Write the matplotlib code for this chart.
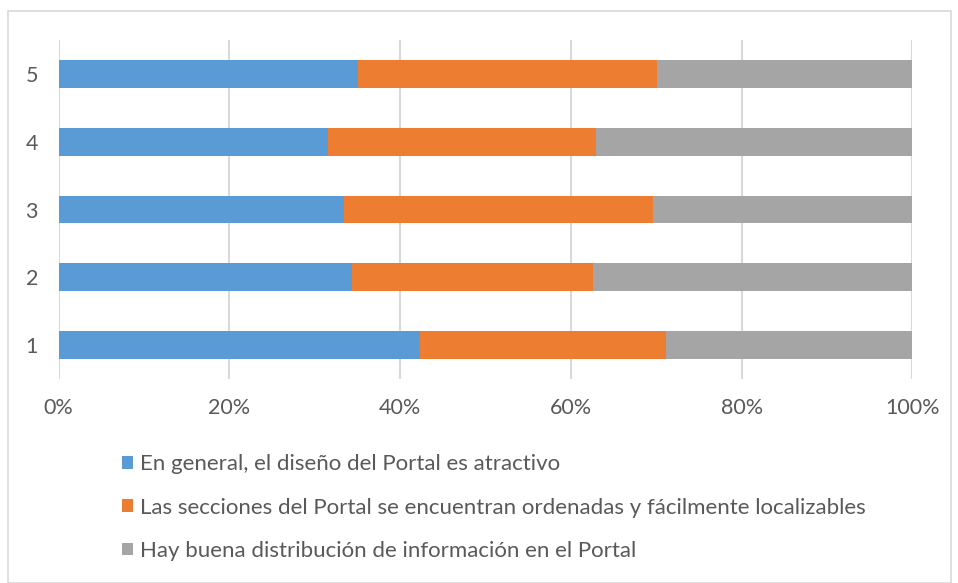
import numpy as np
import matplotlib.pyplot as plt
from matplotlib.patches import Rectangle

categorias = ["1", "2", "3", "4", "5"]
diseno = [42.3, 34.4, 33.4, 31.5, 35.1]
secciones = [28.9, 28.2, 36.2, 31.5, 35.0]
distribucion = [28.8, 37.4, 30.4, 37.0, 29.9]
etiquetas = [
    "En general, el diseño del Portal es atractivo",
    "Las secciones del Portal se encuentran ordenadas y fácilmente localizables",
    "Hay buena distribución de información en el Portal",
]
colores = ["#5B9BD5", "#ED7D31", "#A5A5A5"]

plt.rcParams['font.family'] = ['Lato', 'DejaVu Sans']

fig = plt.figure(figsize=(9.58, 5.83), dpi=100)
ax = fig.add_axes([0.0613, 0.350, 0.891, 0.581])

y = np.arange(1, len(categorias) + 1)
izq = np.zeros(len(categorias))
barras = []
for serie, color, lab in zip([diseno, secciones, distribucion], colores, etiquetas):
    b = ax.barh(y, serie, left=izq, height=0.41, color=color, label=lab, zorder=3)
    barras.append(b)
    izq = izq + np.array(serie)

ax.set_xlim(0, 100)
ax.set_ylim(0.5, 5.5)
ax.set_xticks(np.arange(0, 101, 20))
ax.set_xticklabels([f"{v}%" for v in range(0, 101, 20)])
ax.set_yticks(y)
ax.set_yticklabels(categorias)
ax.tick_params(length=0, labelsize=15.5, labelcolor="#595959")
ax.tick_params(axis="x", pad=14)
ax.tick_params(axis="y", pad=15)
ax.grid(axis="x", color="#D9D9D9", linewidth=1.5, zorder=0)
for s in ax.spines.values():
    s.set_visible(False)

fig.legend(handles=barras, labels=etiquetas, loc="upper left",
           bbox_to_anchor=(0.118, 0.236), frameon=False, fontsize=16,
           labelcolor="#595959", handlelength=0.5, handleheight=0.5,
           handletextpad=0.3, labelspacing=1.05, borderaxespad=0)

fig.patches.append(Rectangle((8 / 958, 0), 943 / 958, 1 - 11 / 583,
                             transform=fig.transFigure, fill=False,
                             edgecolor="#D9D9D9", linewidth=1.2))

fig.savefig("out.png", dpi=100)
